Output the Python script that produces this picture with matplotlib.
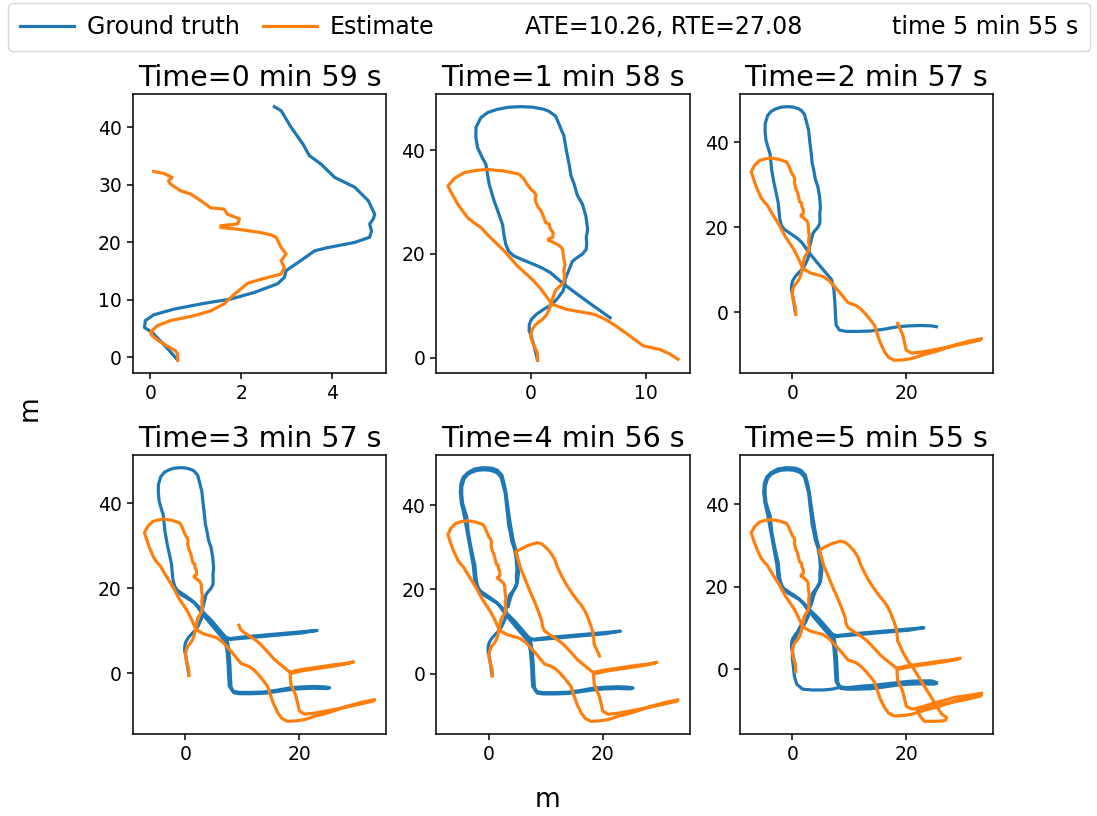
import matplotlib
matplotlib.use("Agg")
import matplotlib.pyplot as plt
import numpy as np
from matplotlib.lines import Line2D
from matplotlib.ticker import MultipleLocator

# Trajectory pieces, one per time window (x, y in metres).
gt_seg1 = [(0.60, -0.45), (0.45, 0.9), (0.29, 2.3), (0.04, 4.35), (-0.13, 5.2), (-0.11, 6.4),
           (0.07, 7.4), (0.52, 8.4), (1.18, 9.4), (1.77, 10.15), (2.29, 11.3), (2.80, 12.8),
           (2.95, 13.9), (2.99, 15.1), (3.25, 16.5), (3.62, 18.55), (3.91, 19.1), (4.50, 20.0),
           (4.83, 20.9), (4.87, 22.0), (4.83, 23.2), (4.91, 24.1), (4.94, 24.9), (4.80, 27.25),
           (4.50, 29.6), (4.06, 31.3), (3.76, 33.6), (3.50, 35.1), (3.36, 37.1), (3.10, 40.0),
           (2.88, 42.9), (2.73, 43.6)]
gt_seg2 = [(2.55, 44.6), (2.16, 46.6), (1.6, 47.5), (1.15, 47.9), (0.2, 48.3), (-0.86, 48.4),
           (-1.9, 48.3), (-2.87, 47.9), (-3.7, 47.3), (-4.31, 46.3), (-4.74, 44.4), (-4.75, 42.5),
           (-4.6, 40.5), (-4.2, 38.6), (-3.88, 37.3), (-3.75, 35.5), (-3.59, 33.4), (-3.16, 30.2),
           (-2.8, 28.0), (-2.44, 25.7), (-2.3, 23.5), (-2.16, 21.9), (-1.9, 20.5), (-1.44, 19.6),
           (-0.6, 18.8), (0.28, 18.0), (1.0, 17.3), (1.72, 16.4), (2.87, 14.2), (3.9, 12.5),
           (4.88, 10.9), (6.9, 7.7)]
gt_seg3 = [(7.3, 5.5), (7.5, 2.0), (7.6, -1.0), (7.7, -3.0), (8.3, -4.2), (9.5, -4.5),
           (11.5, -4.5), (13.8, -4.4), (16.0, -4.0), (18.5, -3.4), (20.5, -3.2), (22.6, -3.1),
           (24.5, -3.2), (25.3, -3.4)]
gt_seg4 = [(24.8, -3.6), (22.6, -3.5), (20.5, -3.6), (18.5, -3.8), (16.0, -4.3), (13.8, -4.7),
           (11.5, -4.8), (9.5, -4.8), (8.5, -4.6), (8.0, -3.2), (7.9, -1.0), (7.8, 2.0),
           (7.6, 5.5), (7.3, 8.0), (8.5, 8.3), (10.5, 8.6), (13.0, 8.9), (15.5, 9.2), (18.0, 9.5),
           (20.5, 9.8), (23.1, 10.1), (20.5, 9.5), (18.0, 9.2), (15.5, 8.9), (13.0, 8.6),
           (10.5, 8.3), (8.0, 8.0), (7.0, 8.6), (5.8, 10.5), (4.6, 12.4), (3.4, 14.0),
           (2.3, 15.7), (1.4, 16.8), (0.4, 17.6), (-0.7, 18.5), (-1.6, 19.4), (-2.0, 20.6)]
gt_seg5 = [(-2.5, 22.5), (-2.7, 25.5), (-3.1, 28.5), (-3.5, 31.5), (-3.9, 34.5), (-4.3, 37.5),
           (-4.8, 40.5), (-5.0, 43.0), (-4.9, 45.0), (-4.5, 46.6), (-3.7, 47.7), (-2.5, 48.6),
           (-1.0, 48.9), (0.5, 48.8), (1.5, 48.3), (2.3, 47.1), (2.7, 45.0), (3.0, 43.0),
           (3.3, 40.0), (3.6, 37.0), (3.9, 34.5), (4.3, 31.5), (4.8, 29.0), (5.1, 26.5),
           (5.2, 24.0), (5.0, 21.5), (4.4, 20.0), (3.8, 18.0), (3.4, 16.0)]
gt_seg6 = [(2.9, 14.5), (2.2, 12.5), (1.2, 9.8), (0.5, 7.5), (0.1, 5.2), (0.0, 3.0), (0.2, 0.5),
           (0.4, -1.8), (0.8, -3.6), (1.8, -4.8), (3.5, -5.0), (5.5, -5.0), (7.0, -4.8),
           (8.2, -4.4), (10.0, -4.4), (12.0, -4.1), (14.0, -3.9), (16.0, -3.6), (18.5, -3.2),
           (20.5, -2.9), (22.5, -2.8), (24.5, -2.8), (25.3, -3.2)]

est_seg1 = [(0.60, -0.5), (0.60, 0.6), (0.55, 1.2), (0.45, 1.6), (0.37, 2.0), (0.18, 2.9),
            (0.04, 3.8), (0.0, 4.35), (0.15, 5.5), (0.44, 6.4), (0.96, 7.25), (1.33, 8.1),
            (1.62, 9.3), (1.81, 10.7), (1.99, 11.9), (2.14, 12.9), (2.44, 13.6), (2.88, 14.5),
            (2.95, 15.65), (2.88, 16.8), (2.99, 18.0), (2.88, 19.1), (2.77, 20.9), (2.66, 21.3),
            (2.44, 21.7), (1.92, 22.3), (1.55, 22.6), (1.55, 22.9), (1.92, 23.2), (1.96, 24.1),
            (1.70, 24.9), (1.62, 25.8), (1.33, 26.0), (1.11, 27.25), (0.89, 28.4), (0.66, 29.0),
            (0.44, 30.15), (0.40, 30.7), (0.48, 31.3), (0.29, 32.0), (0.07, 32.35)]
est_seg2 = [(-0.29, 33.4), (-0.6, 34.5), (-1.0, 35.4), (-2.3, 36.0), (-3.74, 36.3), (-4.8, 36.1),
            (-5.75, 35.7), (-6.6, 34.6), (-7.18, 33.1), (-6.8, 31.5), (-6.32, 29.6), (-5.9, 28.3),
            (-5.46, 27.0), (-4.9, 26.0), (-4.31, 25.1), (-3.9, 24.1), (-3.45, 23.1), (-2.9, 21.9),
            (-2.30, 20.6), (-1.7, 19.1), (-1.15, 17.7), (-0.4, 16.2), (0.28, 14.8), (0.9, 13.2),
            (1.44, 11.6), (1.87, 10.3), (3.16, 9.3), (5.46, 8.4), (6.4, 7.5), (7.18, 6.45),
            (8.5, 4.4), (9.77, 2.3), (11.2, 1.6), (12.0, 0.8), (12.8, -0.3)]
est_seg3 = [(13.6, -1.6), (14.4, -3.0), (14.9, -5.0), (15.4, -7.0), (16.2, -9.3), (16.9, -10.6),
            (17.9, -11.3), (19.4, -11.2), (20.9, -10.9), (23.0, -10.0), (25.0, -9.3), (26.8, -8.5),
            (28.5, -7.7), (31.0, -6.8), (33.2, -6.2), (33.0, -6.5), (30.5, -7.3), (28.0, -8.0),
            (25.0, -8.8), (22.5, -9.4), (20.9, -9.6), (20.0, -8.9), (19.7, -7.2), (19.4, -5.4),
            (18.9, -3.8), (18.5, -2.6)]
est_seg4 = [(18.4, -1.0), (18.4, 0.3), (20.0, 0.8), (22.0, 1.2), (24.0, 1.6), (26.0, 2.0),
            (28.0, 2.3), (29.5, 2.7), (28.5, 2.3), (26.5, 1.8), (24.5, 1.4), (22.5, 1.0),
            (20.5, 0.6), (18.6, 0.0), (18.0, 0.6), (17.0, 1.7), (16.2, 2.6), (15.5, 3.4),
            (14.6, 4.8), (13.7, 6.1), (12.9, 7.2), (12.0, 8.1), (11.1, 8.9), (10.2, 9.7),
            (9.7, 10.3), (9.4, 11.3)]
est_seg5 = [(9.3, 12.5), (8.9, 14.0), (8.5, 15.5), (7.9, 17.5), (7.3, 19.3), (6.8, 21.0),
            (6.2, 23.0), (5.6, 24.9), (5.2, 26.8), (4.7, 28.9), (5.6, 29.6), (7.0, 30.5),
            (8.5, 31.1), (9.3, 30.8), (10.0, 30.0), (10.8, 28.8), (11.5, 27.3), (12.0, 25.4),
            (12.7, 23.4), (13.5, 21.4), (14.4, 19.5), (15.3, 17.8), (16.2, 16.3), (16.9, 14.8),
            (17.4, 13.2), (17.9, 11.4), (18.3, 9.6), (18.5, 6.9), (19.0, 5.5), (19.4, 4.2)]
est_seg6 = [(20.3, 2.0), (21.2, 0.4), (21.9, -1.2), (22.6, -2.8), (23.5, -4.8), (24.4, -6.8),
            (25.3, -8.8), (26.2, -10.8), (27.1, -11.7), (26.9, -12.3), (26.5, -12.5), (24.8, -12.6),
            (23.2, -12.6), (22.4, -11.3), (21.8, -9.5), (23.0, -9.0), (25.0, -8.1), (27.0, -7.4),
            (28.5, -6.8), (31.0, -6.3), (33.2, -5.8)]

gt_segments = [gt_seg1, gt_seg2, gt_seg3, gt_seg4, gt_seg5, gt_seg6]
est_segments = [est_seg1, est_seg2, est_seg3, est_seg4, est_seg5, est_seg6]
panel_titles = ["Time=0 min 59 s", "Time=1 min 58 s", "Time=2 min 57 s",
                "Time=3 min 57 s", "Time=4 min 56 s", "Time=5 min 55 s"]
x_steps = [2, 10, 20, 20, 20, 20]
y_steps = [10, 20, 20, 20, 20, 20]
ate, rte = 10.26, 27.08
total_time = "5 min 55 s"

GT_COLOR = "#1f77b4"
EST_COLOR = "#ff7f0e"

plt.rcParams["axes.linewidth"] = 1.1
plt.rcParams["xtick.major.width"] = 1.1
plt.rcParams["ytick.major.width"] = 1.1
plt.rcParams["xtick.major.size"] = 4.5
plt.rcParams["ytick.major.size"] = 4.5

fig = plt.figure(figsize=(10.97, 8.16), dpi=100)
axes = fig.subplots(2, 3)
fig.subplots_adjust(left=0.1212, right=0.9052, top=0.8848, bottom=0.1005,
                    wspace=0.198, hspace=0.294)

for k, ax in enumerate(axes.flat):
    gt = np.array([p for seg in gt_segments[:k + 1] for p in seg])
    est = np.array([p for seg in est_segments[:k + 1] for p in seg])
    ax.plot(gt[:, 0], gt[:, 1], color=GT_COLOR, lw=2.3)
    ax.plot(est[:, 0], est[:, 1], color=EST_COLOR, lw=2.3)
    ax.set_title(panel_titles[k], fontsize=20.5)
    ax.xaxis.set_major_locator(MultipleLocator(x_steps[k]))
    ax.yaxis.set_major_locator(MultipleLocator(y_steps[k]))
    ax.tick_params(labelsize=13.5)

handles = [
    Line2D([], [], color=GT_COLOR, lw=2.3),
    Line2D([], [], color=EST_COLOR, lw=2.3),
    Line2D([], [], color="none"),
    Line2D([], [], color="none"),
]
labels = ["Ground truth", "Estimate", f"ATE={ate:.2f}, RTE={rte:.2f}", f"time {total_time}"]
fig.legend(handles, labels, loc="upper left", ncol=4, mode="expand",
           bbox_to_anchor=(8 / 1097, 0.5, 1082 / 1097, 0.4963), fontsize=17,
           handlelength=2.3, handletextpad=0.55, borderpad=0.5, borderaxespad=0.0)

fig.text(0.4995, 0.02, "m", ha="center", va="center", fontsize=19)
fig.text(0.027, 0.5, "m", ha="center", va="center", rotation=90, fontsize=19)

fig.savefig("out.png", dpi=100)
